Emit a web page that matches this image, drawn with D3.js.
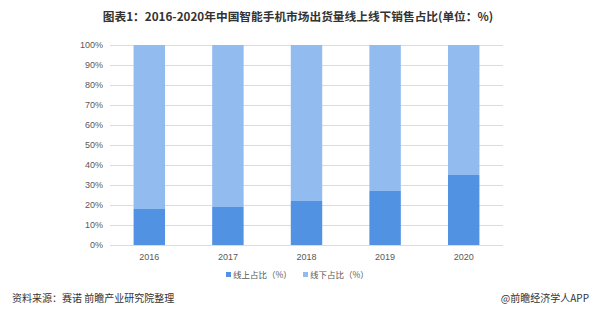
<!doctype html>
<html>
<head>
<meta charset="utf-8">
<title>2016-2020 online/offline share</title>
<script src="https://cdn.jsdelivr.net/npm/d3@7"></script>
<style>
  body { margin:0; background:#fff; }
  svg { display:block; font-family:"Liberation Sans", "Noto Sans CJK SC", sans-serif; }
  .tick text { fill:#595959; font-size:9px; }
</style>
</head>
<body>
<svg id="chart" width="600" height="311"></svg>
<script>
var years = ["2016", "2017", "2018", "2019", "2020"];
var online = [18, 19, 22, 27, 35];
var offline = [82, 81, 78, 73, 65];
var yTicks = [0, 10, 20, 30, 40, 50, 60, 70, 80, 90, 100];
var seriesNames = ["线上占比（%）", "线下占比（%）"];
var colors = ["#5192e3", "#92bbef"];

var svg = d3.select("#chart");

var x = d3.scaleBand().domain(years).range([110, 503]).paddingInner(0.6).paddingOuter(0.3);
var y = d3.scaleLinear().domain([0, 100]).range([245, 45]);

svg.append("text")
  .attr("x", 298).attr("y", 21)
  .attr("text-anchor", "middle")
  .style("font-size", "11.7px").style("font-weight", "bold").style("fill", "#333")
  .style("font-family", "'Noto Sans CJK SC', sans-serif")
  .text("图表1：2016-2020年中国智能手机市场出货量线上线下销售占比(单位：%)");

// gridlines
svg.append("g").selectAll("line")
  .data(yTicks).enter().append("line")
  .attr("x1", 110).attr("x2", 503)
  .attr("y1", function(d) { return y(d) + 0.5; })
  .attr("y2", function(d) { return y(d) + 0.5; })
  .attr("stroke", "#dcdcdc");

var yAxis = svg.append("g")
  .attr("transform", "translate(106,0)")
  .call(d3.axisLeft(y).tickValues(yTicks).tickSize(0).tickFormat(function(d) { return d + "%"; }));
yAxis.select(".domain").remove();

var xAxis = svg.append("g")
  .attr("transform", "translate(0,245)")
  .call(d3.axisBottom(x).tickSize(0).tickPadding(9));
xAxis.select(".domain").remove();

var stack = years.map(function(yr, i) { return { year: yr, on: online[i], off: offline[i] }; });

svg.append("g").selectAll("rect.on")
  .data(stack).enter().append("rect")
  .attr("x", function(d) { return x(d.year); })
  .attr("width", x.bandwidth())
  .attr("y", function(d) { return y(d.on); })
  .attr("height", function(d) { return y(0) - y(d.on); })
  .attr("fill", colors[0]);

svg.append("g").selectAll("rect.off")
  .data(stack).enter().append("rect")
  .attr("x", function(d) { return x(d.year); })
  .attr("width", x.bandwidth())
  .attr("y", function(d) { return y(d.on + d.off); })
  .attr("height", function(d) { return y(d.on) - y(d.on + d.off); })
  .attr("fill", colors[1]);

// legend
var legend = svg.append("g").attr("transform", "translate(226,275)");
var lx = [0, 77];
seriesNames.forEach(function(n, i) {
  var g = legend.append("g").attr("transform", "translate(" + lx[i] + ",0)");
  g.append("rect").attr("x", 0).attr("y", -3).attr("width", 5).attr("height", 5).attr("fill", colors[i]);
  g.append("text").attr("x", 7).attr("y", 3)
    .style("font-size", "8.5px").style("fill", "#595959")
    .style("font-family", "'Noto Sans CJK SC', sans-serif")
    .text(n);
});

svg.append("text")
  .attr("x", 12).attr("y", 302)
  .style("font-size", "10px").style("fill", "#333")
  .style("font-family", "'Noto Sans CJK SC', sans-serif")
  .text("资料来源：赛诺 前瞻产业研究院整理");

svg.append("text")
  .attr("x", 589).attr("y", 302)
  .attr("text-anchor", "end")
  .style("font-size", "10px").style("fill", "#333")
  .style("font-family", "'Noto Sans CJK SC', sans-serif")
  .text("@前瞻经济学人APP");
</script>
</body>
</html>
